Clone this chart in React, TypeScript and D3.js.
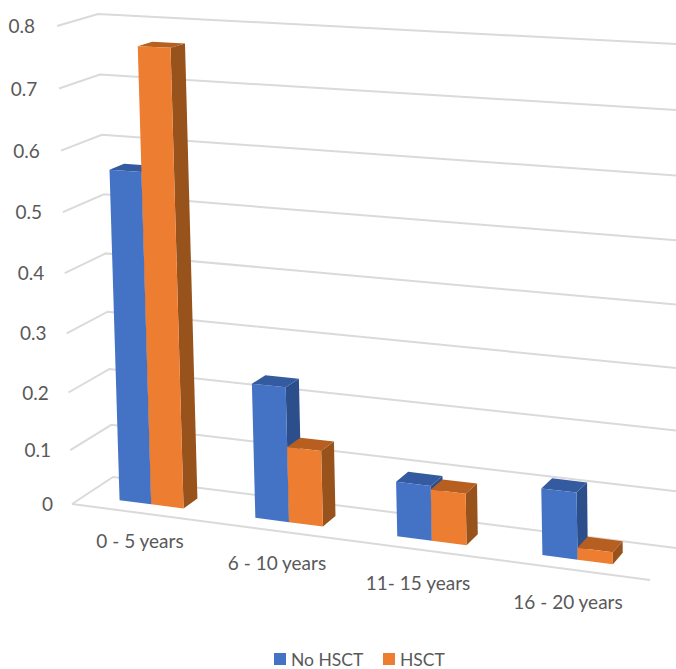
import React from "react";
import * as d3 from "d3";

const categories = ["0 - 5 years", "6 - 10 years", "11- 15 years", "16 - 20 years"];
const noHsct = [0.565, 0.234, 0.097, 0.115];
const hsct = [0.767, 0.134, 0.091, 0.022];
const valueTicks = [0, 0.1, 0.2, 0.3, 0.4, 0.5, 0.6, 0.7, 0.8];
const seriesNames = ["No HSCT", "HSCT"];

const W = 676;
const H = 669;
const TEXT = "#595959";
const GRID = "#dadada";
const FONT = "Lato, 'Open Sans', sans-serif";

type Pt = [number, number];

// Screen positions of the chart box: f/b = front/back, l/r = left/right, 0/1 = floor/ceiling
const fl0: Pt = [72, 504];
const bl0: Pt = [113, 477];
const br0: Pt = [676, 548];
const fr0: Pt = [650, 580];
const fl1: Pt = [57, 26];
const bl1: Pt = [98, 14];
const br1: Pt = [676, 44];
const fr1: Pt = [640, 52];

// Foreshortening along the width and the height of the box
const uScale = d3.scalePow().exponent(1.05).domain([0, 1]).range([0, 1]);
const vScale = d3.scalePow().exponent(1.05).domain([0, 0.8]).range([0, 1]);
const catBand = d3.scaleBand<number>().domain([0, 1, 2, 3]).range([0.0056, 0.9888]);
const tickGap = d3.scaleLinear().domain([0, 0.8]).range([19, 22]);

const mix = (a: Pt, b: Pt, t: number): Pt => [a[0] + (b[0] - a[0]) * t, a[1] + (b[1] - a[1]) * t];

// Trilinear map from (across, depth, value) into the picture plane
function project(t: number, d: number, value: number): Pt {
  const u = t <= 0 ? 0 : uScale(t);
  const v = value <= 0 ? 0 : vScale(value);
  const floor = mix(mix(fl0, fr0, u), mix(bl0, br0, u), d);
  const ceil = mix(mix(fl1, fr1, u), mix(bl1, br1, u), d);
  return mix(floor, ceil, v);
}

const poly = d3.line<Pt>().curve(d3.curveLinearClosed);
const path = d3.line<Pt>();

const DEPTH_A = 0.31;
const DEPTH_B = 0.67;
const BAR_T = 0.059;

const blueFaces = { front: "#4472c4", side: "#2c4f8c", top: "#345b9f" };
const orangeFaces = { front: "#ed7d31", side: "#98521c", top: "#b65f20" };

function Bar({ t0, t1, value, faces }: { t0: number; t1: number; value: number; faces: typeof blueFaces }) {
  const front: Pt[] = [project(t0, DEPTH_A, 0), project(t1, DEPTH_A, 0), project(t1, DEPTH_A, value), project(t0, DEPTH_A, value)];
  const side: Pt[] = [project(t1, DEPTH_A, 0), project(t1, DEPTH_B, 0), project(t1, DEPTH_B, value), project(t1, DEPTH_A, value)];
  const top: Pt[] = [project(t0, DEPTH_A, value), project(t1, DEPTH_A, value), project(t1, DEPTH_B, value), project(t0, DEPTH_B, value)];
  return (
    <g>
      <path d={poly(side)!} fill={faces.side} />
      <path d={poly(top)!} fill={faces.top} />
      <path d={poly(front)!} fill={faces.front} />
    </g>
  );
}

const labelAnchors = [
  [140, 548],
  [277, 570],
  [418, 590],
  [568, 609],
];

export default function App() {
  return (
    <svg width={W} height={H} viewBox={`0 0 ${W} ${H}`} style={{ position: "absolute", left: 0, top: 0, background: "#fff" }} fontFamily={FONT}>
      <g fill="none" stroke={GRID} strokeWidth={2}>
        {valueTicks.map((v) => (
          <path key={v} d={path([project(0, 0, v), project(0, 1, v), project(1, 1, v)])!} />
        ))}
        <path d={path([fl0, fr0])!} />
      </g>
      {categories.map((c, i) => {
        const center = catBand(i)! + catBand.bandwidth() / 2;
        return (
          <g key={c}>
            <Bar t0={center - BAR_T} t1={center} value={noHsct[i]} faces={blueFaces} />
            <Bar t0={center} t1={center + BAR_T} value={hsct[i]} faces={orangeFaces} />
          </g>
        );
      })}
      {valueTicks.map((v) => {
        const [x, y] = project(0, 0, v);
        return (
          <text key={v} x={x - tickGap(v)} y={y + 7} textAnchor="end" fontSize={19} fill={TEXT}>
            {v === 0 ? "0" : d3.format(".1f")(v)}
          </text>
        );
      })}
      {categories.map((c, i) => (
        <text key={c} x={labelAnchors[i][0]} y={labelAnchors[i][1]} textAnchor="middle" fontSize={19} fill={TEXT}>
          {c}
        </text>
      ))}
      <rect x={274} y={653} width={12} height={12} fill={blueFaces.front} />
      <text x={291} y={666} fontSize={17.5} fill={TEXT}>{seriesNames[0]}</text>
      <rect x={383} y={653} width={12} height={12} fill={orangeFaces.front} />
      <text x={400} y={666} fontSize={17.5} fill={TEXT}>{seriesNames[1]}</text>
    </svg>
  );
}
